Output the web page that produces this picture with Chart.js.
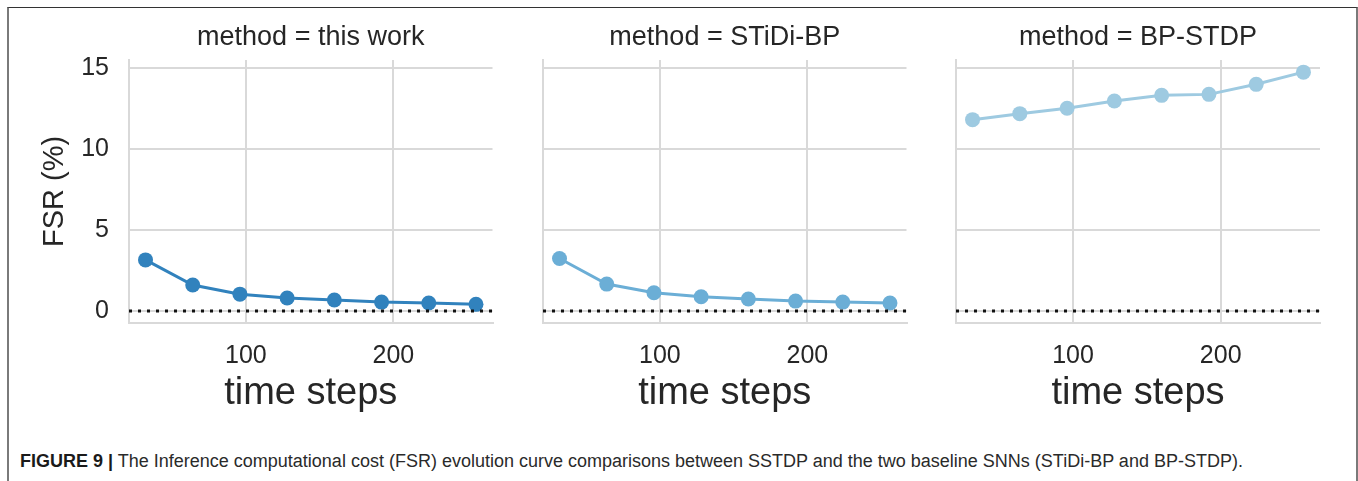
<!DOCTYPE html>
<html>
<head>
<meta charset="utf-8">
<script src="https://cdn.jsdelivr.net/npm/chart.js@4.4.0/dist/chart.umd.min.js"></script>
<style>
  html, body { margin: 0; padding: 0; background: #fff; overflow: hidden; width: 1358px; height: 481px; }
  .frame { position: absolute; left: 7px; top: 7px; width: 1347px; height: 500px;
           border-top: 1px solid #333; border-left: 2px solid #7a7a7a; border-right: 2px solid #7a7a7a; }
  canvas.panel { position: absolute; top: 0; }
  .caption { position: absolute; left: 20px; top: 452px; font-family: "Liberation Sans", Arial, sans-serif;
             font-size: 18px; line-height: 18px; color: #2a2a2a; white-space: nowrap; }
  .caption b { font-weight: bold; color: #1a1a1a; }
</style>
</head>
<body>
<div class="frame"></div>
<canvas id="p1" class="panel" width="500" height="423" style="left:0px"></canvas>
<canvas id="p2" class="panel" width="414" height="423" style="left:500px"></canvas>
<canvas id="p3" class="panel" width="444" height="423" style="left:914px"></canvas>
<div class="caption"><b>FIGURE 9 |</b> The Inference computational cost (FSR) evolution curve comparisons between SSTDP and the two baseline SNNs (STiDi-BP and BP-STDP).</div>
<script>
// ---- data ----
const methods = ['this work', 'STiDi-BP', 'BP-STDP'];
const timeSteps = [32, 64, 96, 128, 160, 192, 224, 256];
const fsrThisWork = [3.15, 1.60, 1.04, 0.80, 0.68, 0.55, 0.49, 0.41];
const fsrSTiDiBP  = [3.24, 1.66, 1.13, 0.88, 0.74, 0.61, 0.55, 0.49];
const fsrBPSTDP   = [11.80, 12.17, 12.50, 12.95, 13.30, 13.36, 13.98, 14.73];
const yTicks = [0, 5, 10, 15];
const xTicks = [100, 200];
const referenceY = 0;
const xLimits = [20.8, 267.2];
const yLimits = [-0.74, 15.48];

// ---- style ----
const FONT = '"Liberation Sans", Arial, sans-serif';
const TEXT = '#262626';
const GRID = '#d9d9d9';
const colors = ['#3182bd', '#6baed6', '#9ecae1'];

function makePanel(canvasId, idx, values, layout) {
  const pts = timeSteps.map((x, i) => ({ x: x, y: values[i] }));
  const refLine = [{ x: xLimits[0], y: referenceY }, { x: xLimits[1], y: referenceY }];
  new Chart(document.getElementById(canvasId), {
    type: 'line',
    data: {
      datasets: [
        { data: refLine, borderColor: '#111', borderWidth: 3, borderDash: [3, 6],
          pointRadius: 0, fill: false, order: 0 },
        { data: pts, borderColor: colors[idx], backgroundColor: colors[idx], borderWidth: 3,
          pointRadius: 7.5, pointHoverRadius: 7.5, pointBackgroundColor: colors[idx],
          pointBorderWidth: 0, fill: false, tension: 0, order: 1, clip: false }
      ]
    },
    options: {
      responsive: false, animation: false, devicePixelRatio: 1,
      events: [],
      layout: { padding: { left: 0, right: layout.padR, top: 0, bottom: 0 } },
      plugins: {
        legend: { display: false },
        tooltip: { enabled: false },
        title: { display: true, text: 'method = ' + methods[idx], fullSize: false,
                 color: TEXT, font: { family: FONT, size: 27, weight: 'normal' },
                 padding: { top: 21.1, bottom: 6.5 } }
      },
      scales: {
        x: {
          type: 'linear', min: xLimits[0], max: xLimits[1],
          afterBuildTicks: s => { s.ticks = xTicks.map(v => ({ value: v })); },
          afterFit: s => { s.height = 100; },
          ticks: { color: TEXT, font: { family: FONT, size: 25 }, padding: 18.3,
                   callback: v => String(v), maxRotation: 0 },
          grid: { color: GRID, lineWidth: 2, drawTicks: false },
          border: { display: true, color: GRID, width: 2 },
          title: { display: true, text: 'time steps', color: TEXT,
                   font: { family: FONT, size: 38 }, padding: { top: 0, bottom: 6.7 } }
        },
        y: {
          type: 'linear', min: yLimits[0], max: yLimits[1],
          afterBuildTicks: s => { s.ticks = yTicks.map(v => ({ value: v })); },
          afterFit: s => { s.width = layout.yW; },
          ticks: { display: idx === 0, color: TEXT, font: { family: FONT, size: 25 }, padding: 20,
                   callback: v => String(v) },
          grid: { color: GRID, lineWidth: 2, drawTicks: false },
          border: { display: true, color: GRID, width: 2 },
          title: { display: idx === 0, text: 'FSR (%)', color: TEXT,
                   font: { family: FONT, size: 29 }, padding: { top: 37.6, bottom: 0 } }
        }
      }
    }
  });
}

makePanel('p1', 0, fsrThisWork, { yW: 129, padR: 7 });
makePanel('p2', 1, fsrSTiDiBP,  { yW: 43,  padR: 7 });
makePanel('p3', 2, fsrBPSTDP,   { yW: 42,  padR: 38 });
</script>
</body>
</html>
